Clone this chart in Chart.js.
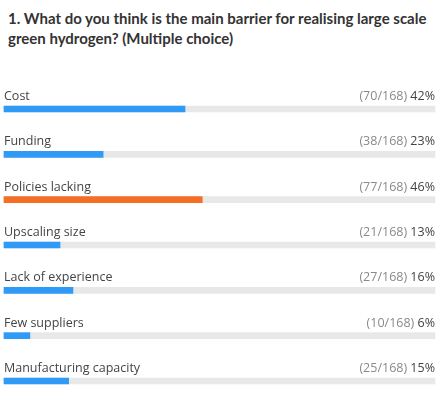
<!DOCTYPE html>
<html>
<head>
<meta charset="utf-8">
<script src="https://cdn.jsdelivr.net/npm/chart.js@4"></script>
<style>
  html, body { margin: 0; padding: 0; background: #fff; overflow: hidden; }
  #wrap { position: relative; width: 443px; height: 393px; }
  #title {
    position: absolute; left: 8px; top: 8px;
    font-family: Lato, sans-serif; font-weight: bold; font-size: 15px;
    line-height: 20px; color: #333; white-space: nowrap;
  }
  canvas { position: absolute; left: 0; top: 0; }
</style>
</head>
<body>
<div id="wrap">
  <div id="title">1. What do you think is the main barrier for realising large scale<br>green hydrogen? (Multiple choice)</div>
  <canvas id="chart" width="443" height="393"></canvas>
</div>
<script>
var answers = ["Cost", "Funding", "Policies lacking", "Upscaling size", "Lack of experience", "Few suppliers", "Manufacturing capacity"];
var votes = [70, 38, 77, 21, 27, 10, 25];
var total = 168;
var percents = [42, 23, 46, 13, 16, 6, 15];
var highlight = 2; // the top answer gets the orange bar

var blue = '#2f9bf6', orange = '#f26f24', track = '#e8e8e8';
var labelFont = '12.5px "Open Sans", sans-serif';

var barLabels = {
    id: 'barLabels',
    afterDatasetsDraw: function(chart) {
        var ctx = chart.ctx;
        var meta = chart.getDatasetMeta(0);
        var left = chart.chartArea.left, right = chart.chartArea.right;
        ctx.save();
        ctx.font = labelFont;
        ctx.textBaseline = 'alphabetic';
        meta.data.forEach(function(bar, i) {
            var y = bar.y - 9;
            ctx.textAlign = 'left';
            ctx.fillStyle = '#444';
            ctx.fillText(answers[i], left, y);

            var pct = percents[i] + '%';
            ctx.textAlign = 'right';
            ctx.fillStyle = '#444';
            ctx.fillText(pct, right, y);
            var w = ctx.measureText(pct).width;
            ctx.fillStyle = '#8a8a8a';
            ctx.fillText('(' + votes[i] + '/' + total + ') ', right - w, y);
        });
        ctx.restore();
    }
};

new Chart(document.getElementById('chart'), {
    type: 'bar',
    data: {
        labels: answers,
        datasets: [{
            data: percents,
            backgroundColor: answers.map((a, i) => i == highlight ? orange : blue),
            barThickness: 6,
            grouped: false,
            clip: false
        }, {
            data: answers.map(() => 100),
            backgroundColor: track,
            barThickness: 6,
            grouped: false,
            clip: false
        }]
    },
    options: {
        indexAxis: 'y',
        responsive: false,
        animation: false,
        layout: { padding: { left: 4, right: 8, top: 109, bottom: 12 } },
        scales: {
            x: { min: 0, max: 100, display: false },
            y: { display: false, offset: false }
        },
        plugins: { legend: { display: false }, tooltip: { enabled: false } }
    },
    plugins: [barLabels]
});
</script>
</body>
</html>
